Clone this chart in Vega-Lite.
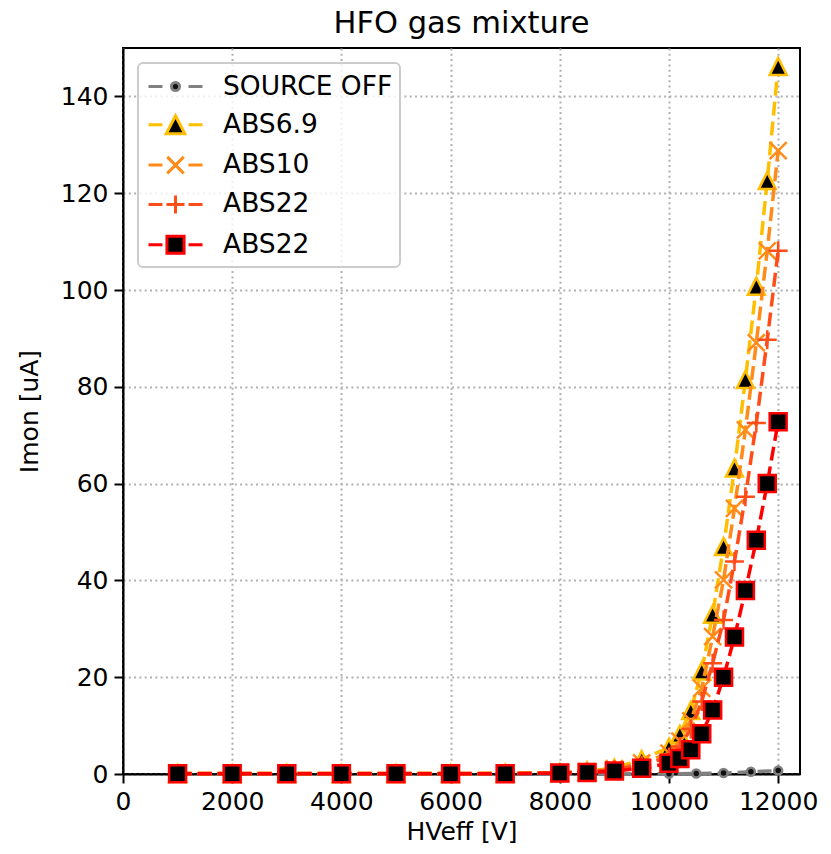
{
  "$schema": "https://vega.github.io/schema/vega-lite/v6.json",
  "width": 677,
  "height": 726,
  "autosize": {"type": "none"},
  "padding": {"left": 123, "top": 48, "right": 31, "bottom": 80},
  "background": "white",
  "title": {"text": "HFO gas mixture", "fontSize": 30.5, "font": "DejaVu Sans", "fontWeight": "normal", "baseline": "bottom", "offset": 10, "dy": 31, "color": "black", "anchor": "middle"},
  "config": {
    "view": {"stroke": "black", "strokeWidth": 2},
    "axis": {"domainColor": "black", "domainWidth": 2, "tickColor": "black", "tickWidth": 2, "tickSize": 9, "labelFontSize": 25, "labelFont": "DejaVu Sans", "labelColor": "black", "titleFontSize": 25, "titleFont": "DejaVu Sans", "titleFontWeight": "normal", "titleColor": "black", "gridColor": "#b0b0b0", "gridDash": [2, 3.3], "gridWidth": 2, "gridOpacity": 1, "labelFlush": false, "labelOverlap": false},
    "legend": {"orient": "top-left", "offset": 14.5, "padding": 7, "rowPadding": 8.3, "symbolSize": 900, "symbolStrokeWidth": 3, "labelFontSize": 26.5, "labelFont": "DejaVu Sans", "labelColor": "black", "labelLimit": 400, "fillColor": "rgba(255,255,255,0.8)", "strokeColor": "#cccccc", "cornerRadius": 5, "strokeWidth": 2, "symbolOffset": 14, "labelOffset": 31, "symbolOpacity": 1}
  },
  "datasets": {"obs": [
    {"series": "SOURCE OFF", "hv": 1000, "imon": 0},
    {"series": "SOURCE OFF", "hv": 2000, "imon": 0},
    {"series": "SOURCE OFF", "hv": 3000, "imon": 0},
    {"series": "SOURCE OFF", "hv": 4000, "imon": 0},
    {"series": "SOURCE OFF", "hv": 5000, "imon": 0},
    {"series": "SOURCE OFF", "hv": 6000, "imon": 0},
    {"series": "SOURCE OFF", "hv": 7000, "imon": 0},
    {"series": "SOURCE OFF", "hv": 8000, "imon": 0},
    {"series": "SOURCE OFF", "hv": 9000, "imon": 0.02},
    {"series": "SOURCE OFF", "hv": 10000, "imon": 0.05},
    {"series": "SOURCE OFF", "hv": 10500, "imon": 0.1},
    {"series": "SOURCE OFF", "hv": 11000, "imon": 0.2},
    {"series": "SOURCE OFF", "hv": 11500, "imon": 0.45},
    {"series": "SOURCE OFF", "hv": 12000, "imon": 0.7},

    {"series": "ABS6.9", "hv": 1000, "imon": 0.1},
    {"series": "ABS6.9", "hv": 2000, "imon": 0.1},
    {"series": "ABS6.9", "hv": 3000, "imon": 0.1},
    {"series": "ABS6.9", "hv": 4000, "imon": 0.1},
    {"series": "ABS6.9", "hv": 5000, "imon": 0.1},
    {"series": "ABS6.9", "hv": 6000, "imon": 0.1},
    {"series": "ABS6.9", "hv": 7000, "imon": 0.15},
    {"series": "ABS6.9", "hv": 8000, "imon": 0.3},
    {"series": "ABS6.9", "hv": 8500, "imon": 0.6},
    {"series": "ABS6.9", "hv": 9000, "imon": 1.2},
    {"series": "ABS6.9", "hv": 9500, "imon": 3.0},
    {"series": "ABS6.9", "hv": 10000, "imon": 5.5},
    {"series": "ABS6.9", "hv": 10200, "imon": 8.2},
    {"series": "ABS6.9", "hv": 10400, "imon": 13.1},
    {"series": "ABS6.9", "hv": 10600, "imon": 21.3},
    {"series": "ABS6.9", "hv": 10800, "imon": 33.0},
    {"series": "ABS6.9", "hv": 11000, "imon": 47.0},
    {"series": "ABS6.9", "hv": 11200, "imon": 63.2},
    {"series": "ABS6.9", "hv": 11400, "imon": 81.5},
    {"series": "ABS6.9", "hv": 11600, "imon": 100.8},
    {"series": "ABS6.9", "hv": 11800, "imon": 122.6},
    {"series": "ABS6.9", "hv": 12000, "imon": 146.2},

    {"series": "ABS10", "hv": 1000, "imon": 0.1},
    {"series": "ABS10", "hv": 2000, "imon": 0.1},
    {"series": "ABS10", "hv": 3000, "imon": 0.1},
    {"series": "ABS10", "hv": 4000, "imon": 0.1},
    {"series": "ABS10", "hv": 5000, "imon": 0.1},
    {"series": "ABS10", "hv": 6000, "imon": 0.1},
    {"series": "ABS10", "hv": 7000, "imon": 0.1},
    {"series": "ABS10", "hv": 8000, "imon": 0.3},
    {"series": "ABS10", "hv": 8500, "imon": 0.5},
    {"series": "ABS10", "hv": 9000, "imon": 1.1},
    {"series": "ABS10", "hv": 9500, "imon": 2.3},
    {"series": "ABS10", "hv": 10000, "imon": 4.3},
    {"series": "ABS10", "hv": 10200, "imon": 6.8},
    {"series": "ABS10", "hv": 10400, "imon": 11.0},
    {"series": "ABS10", "hv": 10600, "imon": 17.7},
    {"series": "ABS10", "hv": 10800, "imon": 28.4},
    {"series": "ABS10", "hv": 11000, "imon": 40.1},
    {"series": "ABS10", "hv": 11200, "imon": 54.9},
    {"series": "ABS10", "hv": 11400, "imon": 71.1},
    {"series": "ABS10", "hv": 11600, "imon": 89.1},
    {"series": "ABS10", "hv": 11800, "imon": 108.1},
    {"series": "ABS10", "hv": 12000, "imon": 128.8},

    {"series": "ABS22", "hv": 1000, "imon": 0.1},
    {"series": "ABS22", "hv": 2000, "imon": 0.1},
    {"series": "ABS22", "hv": 3000, "imon": 0.1},
    {"series": "ABS22", "hv": 4000, "imon": 0.1},
    {"series": "ABS22", "hv": 5000, "imon": 0.1},
    {"series": "ABS22", "hv": 6000, "imon": 0.1},
    {"series": "ABS22", "hv": 7000, "imon": 0.1},
    {"series": "ABS22", "hv": 8000, "imon": 0.2},
    {"series": "ABS22", "hv": 8500, "imon": 0.4},
    {"series": "ABS22", "hv": 9000, "imon": 0.9},
    {"series": "ABS22", "hv": 9500, "imon": 1.8},
    {"series": "ABS22", "hv": 10000, "imon": 3.5},
    {"series": "ABS22", "hv": 10200, "imon": 5.7},
    {"series": "ABS22", "hv": 10400, "imon": 9.3},
    {"series": "ABS22", "hv": 10600, "imon": 15.0},
    {"series": "ABS22", "hv": 10800, "imon": 22.9},
    {"series": "ABS22", "hv": 11000, "imon": 31.8},
    {"series": "ABS22", "hv": 11200, "imon": 43.9},
    {"series": "ABS22", "hv": 11400, "imon": 57.3},
    {"series": "ABS22", "hv": 11600, "imon": 72.5},
    {"series": "ABS22", "hv": 11800, "imon": 89.7},
    {"series": "ABS22", "hv": 12000, "imon": 108.1},

    {"series": "ABS22_b", "hv": 1000, "imon": 0.05},
    {"series": "ABS22_b", "hv": 2000, "imon": 0.05},
    {"series": "ABS22_b", "hv": 3000, "imon": 0.05},
    {"series": "ABS22_b", "hv": 4000, "imon": 0.05},
    {"series": "ABS22_b", "hv": 5000, "imon": 0.05},
    {"series": "ABS22_b", "hv": 6000, "imon": 0.05},
    {"series": "ABS22_b", "hv": 7000, "imon": 0.05},
    {"series": "ABS22_b", "hv": 8000, "imon": 0.2},
    {"series": "ABS22_b", "hv": 8500, "imon": 0.3},
    {"series": "ABS22_b", "hv": 9000, "imon": 0.6},
    {"series": "ABS22_b", "hv": 9500, "imon": 1.2},
    {"series": "ABS22_b", "hv": 10000, "imon": 2.2},
    {"series": "ABS22_b", "hv": 10200, "imon": 3.2},
    {"series": "ABS22_b", "hv": 10400, "imon": 5.0},
    {"series": "ABS22_b", "hv": 10600, "imon": 8.3},
    {"series": "ABS22_b", "hv": 10800, "imon": 13.2},
    {"series": "ABS22_b", "hv": 11000, "imon": 20.0},
    {"series": "ABS22_b", "hv": 11200, "imon": 28.3},
    {"series": "ABS22_b", "hv": 11400, "imon": 37.9},
    {"series": "ABS22_b", "hv": 11600, "imon": 48.3},
    {"series": "ABS22_b", "hv": 11800, "imon": 60.0},
    {"series": "ABS22_b", "hv": 12000, "imon": 72.8}
  ]},
  "data": {"name": "obs"},
  "encoding": {
    "x": {"field": "hv", "type": "quantitative", "title": "HVeff [V]",
      "scale": {"domain": [0, 12400], "nice": false, "zero": false},
      "axis": {"values": [0, 2000, 4000, 6000, 8000, 10000, 12000], "format": "d", "labelPadding": 6, "titlePadding": 5, "grid": true}},
    "y": {"field": "imon", "type": "quantitative", "title": "Imon [uA]",
      "scale": {"domain": [0, 150], "nice": false, "zero": false},
      "axis": {"values": [0, 20, 40, 60, 80, 100, 120, 140], "labelPadding": 6, "titlePadding": 18, "grid": true}}
  },
  "layer": [
    {
      "transform": [{"filter": "datum.series === 'SOURCE OFF'"}],
      "mark": {"type": "line", "strokeDash": [14, 6], "strokeWidth": 3.5, "stroke": "#808080", "clip": false},
      "encoding": {}
    },
    {
      "transform": [{"filter": "datum.series === 'SOURCE OFF'"}],
      "mark": {"type": "point", "shape": "M0.4,0A0.4,0.4,0,1,1,-0.4,0A0.4,0.4,0,1,1,0.4,0Z", "size": 400, "strokeWidth": 2.5, "stroke": "#808080", "fill": "#111111", "opacity": 1, "clip": false},
      "encoding": {}
    },
    {
      "transform": [{"filter": "datum.series === 'ABS6.9'"}],
      "mark": {"type": "line", "strokeDash": [14, 6], "strokeWidth": 3.5, "stroke": "#ffbf00", "clip": false},
      "encoding": {}
    },
    {
      "transform": [{"filter": "datum.series === 'ABS6.9'"}],
      "mark": {"type": "point", "shape": "M0,-0.85L0.85,0.85L-0.85,0.85Z", "size": 400, "strokeWidth": 2.5, "stroke": "#ffbf00", "fill": "#000000", "opacity": 1, "clip": false},
      "encoding": {}
    },
    {
      "transform": [{"filter": "datum.series === 'ABS10'"}],
      "mark": {"type": "line", "strokeDash": [14, 6], "strokeWidth": 3.5, "stroke": "#ff8c1a", "clip": false},
      "encoding": {}
    },
    {
      "transform": [{"filter": "datum.series === 'ABS10'"}],
      "mark": {"type": "point", "shape": "M-0.85,-0.85L0.85,0.85M-0.85,0.85L0.85,-0.85", "size": 400, "strokeWidth": 2.5, "stroke": "#ff8c1a", "fill": "transparent", "opacity": 1, "clip": false},
      "encoding": {}
    },
    {
      "transform": [{"filter": "datum.series === 'ABS22'"}],
      "mark": {"type": "line", "strokeDash": [14, 6], "strokeWidth": 3.5, "stroke": "#ff4d1a", "clip": false},
      "encoding": {}
    },
    {
      "transform": [{"filter": "datum.series === 'ABS22'"}],
      "mark": {"type": "point", "shape": "M-0.95,0H0.95M0,-0.95V0.95", "size": 400, "strokeWidth": 2.5, "stroke": "#ff4d1a", "fill": "transparent", "opacity": 1, "clip": false},
      "encoding": {}
    },
    {
      "transform": [{"filter": "datum.series === 'ABS22_b'"}],
      "mark": {"type": "line", "strokeDash": [14, 6], "strokeWidth": 3.5, "stroke": "#ff0000", "clip": false},
      "encoding": {}
    },
    {
      "transform": [{"filter": "datum.series === 'ABS22_b'"}],
      "mark": {"type": "point", "shape": "M-0.85,-0.85H0.85V0.85H-0.85Z", "size": 400, "strokeWidth": 2.5, "stroke": "#ff0000", "fill": "#000000", "opacity": 1, "clip": false},
      "encoding": {}
    },
    {
      "mark": {"type": "point", "opacity": 0, "filled": false, "size": 900, "strokeWidth": 3},
      "encoding": {
        "stroke": {"field": "series", "type": "nominal",
          "scale": {"domain": ["SOURCE OFF", "ABS6.9", "ABS10", "ABS22", "ABS22_b"], "range": ["#808080", "#ffbf00", "#ff8c1a", "#ff4d1a", "#ff0000"]},
          "legend": {"title": null, "labelExpr": "replace(datum.label, '_b', '')"}},
        "fill": {"field": "series", "type": "nominal",
          "scale": {"domain": ["SOURCE OFF", "ABS6.9", "ABS10", "ABS22", "ABS22_b"], "range": ["#111111", "#000000", "transparent", "transparent", "#000000"]},
          "legend": {"title": null, "labelExpr": "replace(datum.label, '_b', '')"}},
        "shape": {"field": "series", "type": "nominal",
          "scale": {"domain": ["SOURCE OFF", "ABS6.9", "ABS10", "ABS22", "ABS22_b"],
            "range": [
              "M-1.8,0H-0.87M0.87,0H1.8M0.27,0A0.27,0.27,0,1,1,-0.27,0A0.27,0.27,0,1,1,0.27,0Z",
              "M-1.8,0H-0.87M0.87,0H1.8M0,-0.6L0.62,0.6L-0.62,0.6Z",
              "M-1.8,0H-0.87M0.87,0H1.8M-0.55,-0.55L0.55,0.55M-0.55,0.55L0.55,-0.55",
              "M-1.8,0H-0.87M0.87,0H1.8M-0.6,0H0.6M0,-0.6V0.6",
              "M-1.8,0H-0.87M0.87,0H1.8M-0.57,-0.57H0.57V0.57H-0.57Z"
            ]},
          "legend": {"title": null, "labelExpr": "replace(datum.label, '_b', '')"}
        }
      }
    }
  ]
}
